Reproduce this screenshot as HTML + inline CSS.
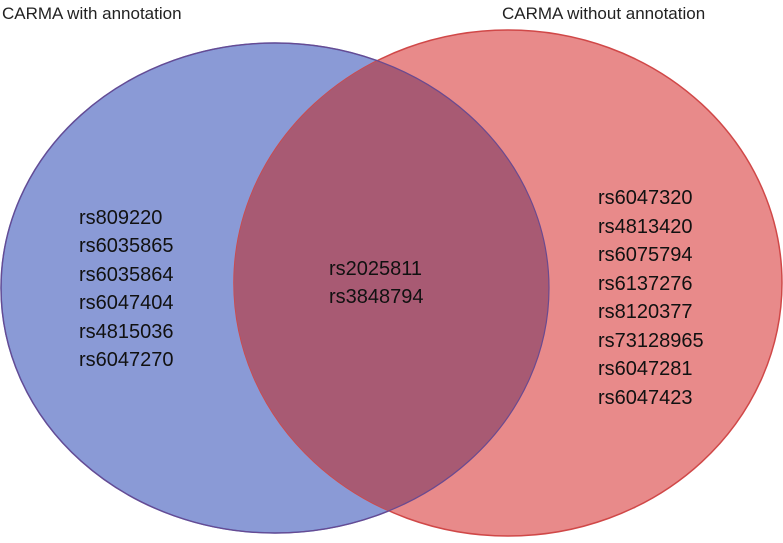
<!DOCTYPE html>
<html><head><style>body{margin:0;background:#fff}</style></head><body>
<svg width="783" height="538" xmlns="http://www.w3.org/2000/svg" font-family="Liberation Sans, sans-serif">
<rect width="783" height="538" fill="#fff"/>
<ellipse cx="275" cy="288" rx="274" ry="245" fill="#8a9ad6" stroke="#4a62b8" stroke-width="1.5"/>
<defs><clipPath id="c"><ellipse cx="275" cy="288" rx="274" ry="245"/></clipPath></defs>
<ellipse cx="508" cy="283" rx="274" ry="253" fill="#e88a8a" stroke="#d04848" stroke-width="1.5"/>
<ellipse cx="508" cy="283" rx="274" ry="253" fill="#a85a73" clip-path="url(#c)"/>
<ellipse cx="275" cy="288" rx="274" ry="245" fill="none" stroke="#6a4a90" stroke-width="1.2" clip-path="url(#c2)"/>
<text x="2" y="19" font-size="17" fill="#222">CARMA with annotation</text>
<text x="502" y="19" font-size="17" fill="#222">CARMA without annotation</text>
<g font-size="20" fill="#111">
<text x="79" y="224">rs809220</text>
<text x="79" y="252">rs6035865</text>
<text x="79" y="281">rs6035864</text>
<text x="79" y="309">rs6047404</text>
<text x="79" y="338">rs4815036</text>
<text x="79" y="366">rs6047270</text>
<text x="329" y="275">rs2025811</text>
<text x="329" y="303">rs3848794</text>
<text x="598" y="204">rs6047320</text>
<text x="598" y="233">rs4813420</text>
<text x="598" y="261">rs6075794</text>
<text x="598" y="290">rs6137276</text>
<text x="598" y="318">rs8120377</text>
<text x="598" y="347">rs73128965</text>
<text x="598" y="375">rs6047281</text>
<text x="598" y="404">rs6047423</text>
</g>
</svg>
</body></html>
